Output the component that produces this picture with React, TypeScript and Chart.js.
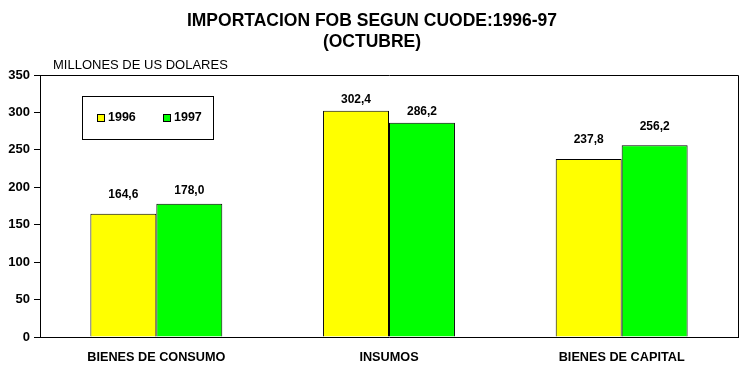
import React, { useEffect, useRef } from "react";
import { Chart, registerables } from "chart.js";

Chart.register(...registerables);

const TITLE_LINES = ["IMPORTACION FOB SEGUN CUODE:1996-97", "(OCTUBRE)"];
const AXIS_TITLE = "MILLONES DE US DOLARES";
const CATEGORIES = ["BIENES DE CONSUMO", "INSUMOS", "BIENES DE CAPITAL"];
const SERIES_NAMES = ["1996", "1997"];
const VALUES_1996 = [164.6, 302.4, 237.8];
const VALUES_1997 = [178.0, 286.2, 256.2];
const Y_MIN = 0;
const Y_MAX = 350;
const Y_STEP = 50;

const COLORS = ["#FFFF00", "#00FF00"];
const FONT = "'Liberation Sans', Arial, sans-serif";
// gap (px) between bar top and its value label, per series/category
const LABEL_GAPS = [
  [14, 6, 14],
  [8, 6, 14],
];

const fmt = (v: number) => v.toFixed(1).replace(".", ",");

const decorPlugin = {
  id: "decor",
  afterDraw(chart: any) {
    const ctx = chart.ctx as CanvasRenderingContext2D;
    const area = chart.chartArea;
    ctx.save();
    // top and right frame lines
    ctx.strokeStyle = "#000";
    ctx.lineWidth = 1;
    ctx.beginPath();
    ctx.moveTo(Math.round(area.left) + 0.5, Math.round(area.top) + 0.5);
    ctx.lineTo(Math.round(area.right) + 0.5, Math.round(area.top) + 0.5);
    ctx.lineTo(Math.round(area.right) + 0.5, Math.round(area.bottom) + 0.5);
    ctx.stroke();

    // title
    ctx.fillStyle = "#000";
    ctx.textAlign = "center";
    ctx.textBaseline = "middle";
    ctx.font = `bold 17.5px ${FONT}`;
    ctx.fillText(TITLE_LINES[0], 372, 21);
    ctx.fillText(TITLE_LINES[1], 372, 42);

    // axis title
    ctx.font = `13px ${FONT}`;
    ctx.textAlign = "left";
    ctx.fillText(AXIS_TITLE, 53, 65);

    // value labels
    ctx.font = `bold 12px ${FONT}`;
    ctx.textAlign = "center";
    ctx.textBaseline = "bottom";
    chart.data.datasets.forEach((ds: any, di: number) => {
      const meta = chart.getDatasetMeta(di);
      meta.data.forEach((bar: any, i: number) => {
        const gap = LABEL_GAPS[di][i];
        ctx.fillText(fmt(ds.data[i]), bar.x, bar.y - gap + 1);
      });
    });

    // legend box
    const lx = 82.5, ly = 96.5, lw = 131, lh = 43;
    ctx.fillStyle = "#fff";
    ctx.fillRect(lx, ly, lw, lh);
    ctx.strokeStyle = "#000";
    ctx.strokeRect(lx, ly, lw, lh);
    const items = [
      { x: 97, color: COLORS[0], text: SERIES_NAMES[0] },
      { x: 163, color: COLORS[1], text: SERIES_NAMES[1] },
    ];
    ctx.textAlign = "left";
    ctx.textBaseline = "middle";
    items.forEach((it) => {
      ctx.fillStyle = it.color;
      ctx.fillRect(it.x + 0.5, 114.5, 7, 7);
      ctx.strokeStyle = "#000";
      ctx.strokeRect(it.x + 0.5, 114.5, 7, 7);
      ctx.fillStyle = "#000";
      ctx.font = `bold 12.5px ${FONT}`;
      ctx.fillText(it.text, it.x + 11, 118);
    });
    ctx.restore();
  },
};

export default function App() {
  const ref = useRef<HTMLCanvasElement>(null);

  useEffect(() => {
    document.body.style.margin = "0";
    const canvas = ref.current;
    if (!canvas) return;
    const chart = new Chart(canvas, {
      type: "bar",
      data: {
        labels: CATEGORIES,
        datasets: [
          {
            label: SERIES_NAMES[0],
            data: VALUES_1996,
            backgroundColor: COLORS[0],
            borderColor: "#000",
            borderWidth: 1,
          },
          {
            label: SERIES_NAMES[1],
            data: VALUES_1997,
            backgroundColor: COLORS[1],
            borderColor: "#000",
            borderWidth: 1,
          },
        ],
      },
      options: {
        responsive: false,
        animation: false,
        devicePixelRatio: 1,
        layout: { padding: { top: 75, right: 7, left: 0, bottom: 0 } },
        datasets: {
          bar: { categoryPercentage: 0.567, barPercentage: 1 },
        },
        plugins: {
          legend: { display: false },
          title: { display: false },
          tooltip: { enabled: false },
        },
        scales: {
          x: {
            grid: { display: false, drawTicks: false },
            border: { display: true, color: "#000", width: 1 },
            ticks: {
              color: "#000",
              font: { family: FONT, size: 12.7, weight: "bold" },
              padding: 13,
              maxRotation: 0,
            },
            afterFit(scale: any) {
              scale.height = 38;
            },
          },
          y: {
            min: Y_MIN,
            max: Y_MAX,
            ticks: {
              stepSize: Y_STEP,
              color: "#000",
              padding: 4,
              font: { family: FONT, size: 13, weight: "bold" },
            },
            grid: {
              drawOnChartArea: false,
              drawTicks: true,
              tickLength: 6,
              color: "#000",
            },
            border: { display: true, color: "#000", width: 1 },
            afterFit(scale: any) {
              scale.width = 40;
            },
          },
        },
      },
      plugins: [decorPlugin],
    });
    return () => chart.destroy();
  }, []);

  return (
    <div style={{ position: "absolute", left: 0, top: 0, width: 745, height: 375, background: "#fff" }}>
      <canvas ref={ref} width={745} height={375} />
    </div>
  );
}
